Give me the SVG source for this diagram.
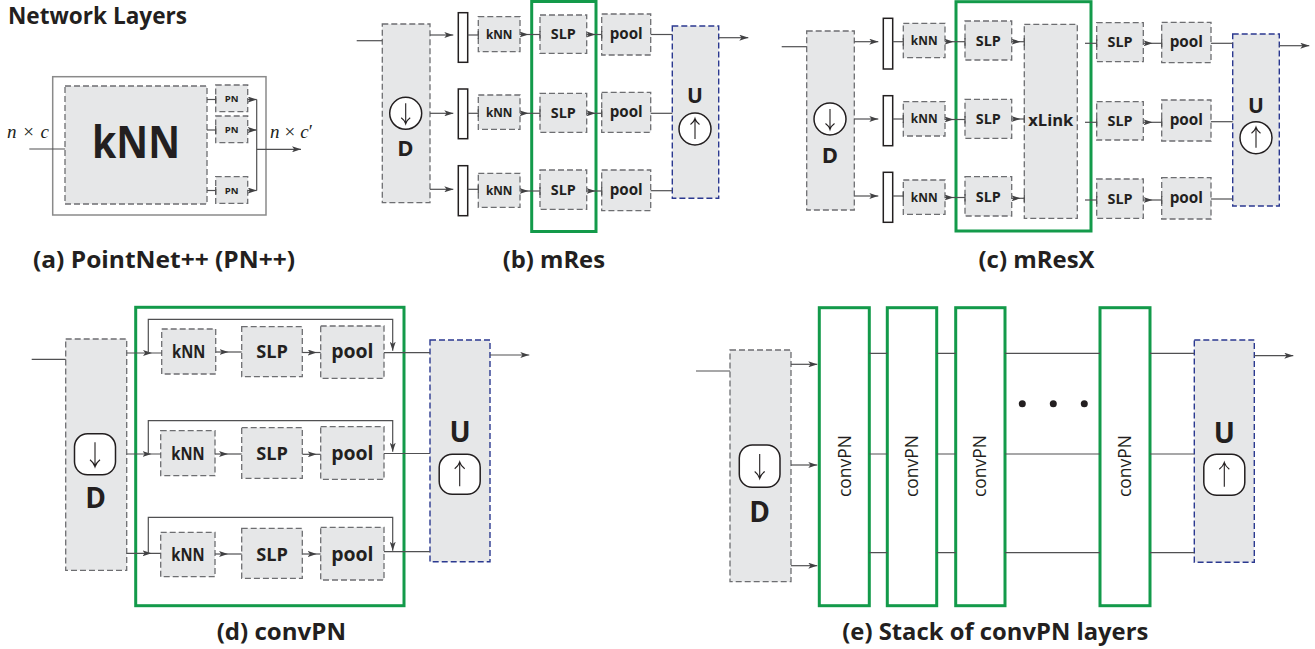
<svg xmlns="http://www.w3.org/2000/svg" xmlns:xlink="http://www.w3.org/1999/xlink" width="1315" height="649" viewBox="0 0 1315 649">
<style>
.bg{fill:#ffffff}
.gbox{fill:#e6e7e8;stroke:#6d6e71;stroke-width:1.3;stroke-dasharray:6 3}
.ubox{fill:#e6e7e8;stroke:#2b3990;stroke-width:1.4;stroke-dasharray:6 3}
.grn{fill:none;stroke:#139a4a;stroke-width:3}
.grnw{fill:#ffffff;stroke:#139a4a;stroke-width:3}
.bar{fill:#ffffff;stroke:#231f20;stroke-width:1.5}
.outer{fill:#ffffff;stroke:#8a8a8a;stroke-width:1.5}
.sym{fill:#ffffff;stroke:#231f20;stroke-width:1.5}
.arr{fill:none;stroke:#231f20;stroke-width:1.1}
.ln{fill:none;stroke:#505052;stroke-width:1.2}
.t{font-family:"Open Sans","Noto Sans","DejaVu Sans",sans-serif;font-weight:700;fill:#231f20;text-anchor:middle}
.cap{font-family:"Open Sans","Noto Sans","DejaVu Sans",sans-serif;font-weight:700;fill:#231f20;font-size:24px}
.cv{font-family:"Open Sans","Noto Sans","DejaVu Sans",sans-serif;font-weight:400;fill:#231f20;font-size:17.5px;text-anchor:middle}
.m{font-family:"Liberation Serif","DejaVu Serif",serif;fill:#231f20;font-size:19px}
</style>
<defs>
<marker id="ah" viewBox="0 0 9 6" refX="9" refY="3" markerWidth="9" markerHeight="6" markerUnits="userSpaceOnUse" orient="auto"><path d="M0,0 L9,3 L0,6 L2.2,3 Z" fill="#404042"/></marker>
<marker id="tick" viewBox="-1 -4 2 8" refX="0" refY="0" markerWidth="2" markerHeight="8" markerUnits="userSpaceOnUse" orient="auto"><path d="M0,-4 V4" stroke="#505052" stroke-width="1.2"/></marker>
<path id="darr" d="M0,-10 V10 M-4.5,4.5 Q-1,7 0,10.5 Q1,7 4.5,4.5"/>
<path id="uarr" d="M0,10 V-10 M-4.5,-4.5 Q-1,-7 0,-10.5 Q1,-7 4.5,-4.5"/>
<path id="darrL" d="M0,-12 V12 M-5,5.5 Q-1.2,8.5 0,12.5 Q1.2,8.5 5,5.5"/>
<path id="uarrL" d="M0,12 V-12 M-5,-5.5 Q-1.2,-8.5 0,-12.5 Q1.2,-8.5 5,-5.5"/>
</defs>
<rect class="bg" x="0" y="0" width="1315" height="649"/>

<text class="cap" x="8" y="24" font-size="21.5" textLength="179" lengthAdjust="spacingAndGlyphs">Network Layers</text>

<!-- ===== (a) ===== -->
<g id="a-outer"><rect class="outer" x="52.7" y="76.7" width="213.3" height="138.3"/></g>
<g id="a-knn"><rect class="gbox" x="65" y="86" width="142" height="118"/>
<text class="t" x="136" y="158.3" font-size="44" textLength="88" lengthAdjust="spacingAndGlyphs">kNN</text></g>
<g id="a-pn1"><rect class="gbox" x="215.7" y="85" width="32" height="26.7"/><text class="t" x="231.7" y="102" font-size="9.5">PN</text></g>
<g id="a-pn2"><rect class="gbox" x="215.7" y="116" width="32" height="26.7"/><text class="t" x="231.7" y="133" font-size="9.5">PN</text></g>
<g id="a-pn3"><rect class="gbox" x="215.7" y="176.7" width="32" height="26.7"/><text class="t" x="231.7" y="193.5" font-size="9.5">PN</text></g>
<text class="m" x="7" y="138" textLength="42" lengthAdjust="spacing"><tspan font-style="italic">n</tspan> × <tspan font-style="italic">c</tspan></text>
<text class="m" x="270" y="138" textLength="43" lengthAdjust="spacing"><tspan font-style="italic">n</tspan> × <tspan font-style="italic">c</tspan>′</text>

<!-- ===== (b) ===== -->
<g id="b-D"><rect class="gbox" x="382.3" y="24" width="47.7" height="178.7"/>
<circle class="sym" cx="405.7" cy="113.3" r="16"/><use xlink:href="#darr" href="#darr" class="arr" x="405.7" y="113.3"/>
<text class="t" x="405.5" y="156" font-size="22">D</text></g>
<g id="b-bar1"><rect class="bar" x="458.3" y="12.7" width="9.4" height="49.6"/></g>
<g id="b-bar2"><rect class="bar" x="458.3" y="89" width="9.4" height="49.7"/></g>
<g id="b-bar3"><rect class="bar" x="458.3" y="165.7" width="9.4" height="50"/></g>
<g id="b-knn1"><rect class="gbox" x="478.3" y="16.7" width="41.7" height="35"/><text class="t" x="499.2" y="38.8" font-size="13" textLength="26.5" lengthAdjust="spacingAndGlyphs">kNN</text></g>
<g id="b-knn2"><rect class="gbox" x="478.3" y="95" width="41.7" height="34.3"/><text class="t" x="499.2" y="116.8" font-size="13" textLength="26.5" lengthAdjust="spacingAndGlyphs">kNN</text></g>
<g id="b-knn3"><rect class="gbox" x="478.3" y="173.3" width="41.7" height="34"/><text class="t" x="499.2" y="195" font-size="13" textLength="26.5" lengthAdjust="spacingAndGlyphs">kNN</text></g>
<g id="b-green"><rect class="grn" x="531.7" y="1.5" width="64.3" height="230"/></g>
<g id="b-slp1"><rect class="gbox" x="540" y="15" width="46.7" height="38.3"/><text class="t" x="563.3" y="39.2" font-size="15" textLength="25" lengthAdjust="spacingAndGlyphs">SLP</text></g>
<g id="b-slp2"><rect class="gbox" x="540" y="93.3" width="46.7" height="39"/><text class="t" x="563.3" y="118" font-size="15" textLength="25" lengthAdjust="spacingAndGlyphs">SLP</text></g>
<g id="b-slp3"><rect class="gbox" x="540" y="170" width="46.7" height="39.3"/><text class="t" x="563.3" y="195" font-size="15" textLength="25" lengthAdjust="spacingAndGlyphs">SLP</text></g>
<g id="b-pool1"><rect class="gbox" x="601.7" y="14" width="49" height="41"/><text class="t" x="626.2" y="38.8" font-size="15.5" textLength="33" lengthAdjust="spacingAndGlyphs">pool</text></g>
<g id="b-pool2"><rect class="gbox" x="601.7" y="92.3" width="49" height="40"/><text class="t" x="626.2" y="117" font-size="15.5" textLength="33" lengthAdjust="spacingAndGlyphs">pool</text></g>
<g id="b-pool3"><rect class="gbox" x="601.7" y="170" width="49" height="40.7"/><text class="t" x="626.2" y="195" font-size="15.5" textLength="33" lengthAdjust="spacingAndGlyphs">pool</text></g>
<g id="b-U"><rect class="ubox" x="672.3" y="26" width="46.4" height="172.3"/>
<text class="t" x="695" y="103.3" font-size="21">U</text>
<circle class="sym" cx="695" cy="129" r="16"/><use xlink:href="#uarr" href="#uarr" class="arr" x="695" y="129"/></g>

<!-- ===== (c) ===== -->
<g id="c-D"><rect class="gbox" x="806.7" y="31" width="47.6" height="179"/>
<circle class="sym" cx="830" cy="119" r="16"/><use xlink:href="#darr" href="#darr" class="arr" x="830" y="119"/>
<text class="t" x="830" y="163" font-size="22">D</text></g>
<g id="c-bar1"><rect class="bar" x="883.3" y="18.3" width="9.4" height="50.7"/></g>
<g id="c-bar2"><rect class="bar" x="883.3" y="95.7" width="9.4" height="50"/></g>
<g id="c-bar3"><rect class="bar" x="883.3" y="172.3" width="9.4" height="50"/></g>
<g id="c-knn1"><rect class="gbox" x="903.3" y="23.3" width="41.7" height="34.4"/><text class="t" x="924.2" y="45" font-size="13" textLength="26.7" lengthAdjust="spacingAndGlyphs">kNN</text></g>
<g id="c-knn2"><rect class="gbox" x="903.3" y="101.7" width="41.7" height="34.3"/><text class="t" x="924.2" y="123.3" font-size="13" textLength="26.7" lengthAdjust="spacingAndGlyphs">kNN</text></g>
<g id="c-knn3"><rect class="gbox" x="903.3" y="180" width="41.7" height="34.3"/><text class="t" x="924.2" y="201.7" font-size="13" textLength="26.7" lengthAdjust="spacingAndGlyphs">kNN</text></g>
<g id="c-green"><rect class="grn" x="956" y="1.7" width="135" height="229.3"/></g>
<g id="c-slp1"><rect class="gbox" x="965" y="21" width="46.7" height="39"/><text class="t" x="988.3" y="45.5" font-size="15" textLength="25" lengthAdjust="spacingAndGlyphs">SLP</text></g>
<g id="c-slp2"><rect class="gbox" x="965" y="99.3" width="46.7" height="39"/><text class="t" x="988.3" y="124" font-size="15" textLength="25" lengthAdjust="spacingAndGlyphs">SLP</text></g>
<g id="c-slp3"><rect class="gbox" x="965" y="176.7" width="46.7" height="39.3"/><text class="t" x="988.3" y="201.5" font-size="15" textLength="25" lengthAdjust="spacingAndGlyphs">SLP</text></g>
<g id="c-xlink"><rect class="gbox" x="1024.3" y="24.3" width="53" height="194"/><text class="t" x="1050.8" y="126" font-size="16" textLength="45" lengthAdjust="spacingAndGlyphs">xLink</text></g>
<g id="c-slp4"><rect class="gbox" x="1096.7" y="22.7" width="46.6" height="39"/><text class="t" x="1120" y="47" font-size="15" textLength="25" lengthAdjust="spacingAndGlyphs">SLP</text></g>
<g id="c-slp5"><rect class="gbox" x="1096.7" y="101.7" width="46.6" height="38.3"/><text class="t" x="1120" y="125.8" font-size="15" textLength="25" lengthAdjust="spacingAndGlyphs">SLP</text></g>
<g id="c-slp6"><rect class="gbox" x="1096.7" y="179" width="46.6" height="39.3"/><text class="t" x="1120" y="203.5" font-size="15" textLength="25" lengthAdjust="spacingAndGlyphs">SLP</text></g>
<g id="c-pool1"><rect class="gbox" x="1161.7" y="22.3" width="49.3" height="40.4"/><text class="t" x="1186.3" y="47" font-size="15.5" textLength="33.3" lengthAdjust="spacingAndGlyphs">pool</text></g>
<g id="c-pool2"><rect class="gbox" x="1161.7" y="100" width="49.3" height="41"/><text class="t" x="1186.3" y="125.3" font-size="15.5" textLength="33.3" lengthAdjust="spacingAndGlyphs">pool</text></g>
<g id="c-pool3"><rect class="gbox" x="1161.7" y="177.7" width="49.3" height="41.3"/><text class="t" x="1186.3" y="203" font-size="15.5" textLength="33.3" lengthAdjust="spacingAndGlyphs">pool</text></g>
<g id="c-U"><rect class="ubox" x="1232.7" y="34" width="46.6" height="172"/>
<text class="t" x="1256" y="113" font-size="21">U</text>
<circle class="sym" cx="1256" cy="137.7" r="16"/><use xlink:href="#uarr" href="#uarr" class="arr" x="1256" y="137.7"/></g>

<!-- ===== (d) ===== -->
<g id="d-D"><rect class="gbox" x="65.7" y="339" width="61" height="231.3"/>
<rect class="sym" x="74.5" y="433.8" width="41" height="41" rx="13"/><use xlink:href="#darrL" href="#darrL" class="arr" x="95" y="454.3"/>
<text class="t" x="95.5" y="508.3" font-size="28">D</text></g>
<g id="d-green"><rect class="grn" x="135.7" y="307.3" width="268.3" height="298.4"/></g>
<g id="d-knn1"><rect class="gbox" x="161.7" y="329" width="54" height="45"/><text class="t" x="188.7" y="358.3" font-size="17" textLength="33.3" lengthAdjust="spacingAndGlyphs">kNN</text></g>
<g id="d-slp1"><rect class="gbox" x="241.7" y="326.7" width="60.6" height="50"/><text class="t" x="272" y="358.3" font-size="18.5" textLength="31.7" lengthAdjust="spacingAndGlyphs">SLP</text></g>
<g id="d-pool1"><rect class="gbox" x="320.7" y="326" width="63.3" height="52.3"/><text class="t" x="352.3" y="358.3" font-size="19.5" textLength="42.3" lengthAdjust="spacingAndGlyphs">pool</text></g>
<g id="d-knn2"><rect class="gbox" x="160.7" y="430.7" width="54.3" height="45"/><text class="t" x="188" y="459.5" font-size="17" textLength="33.3" lengthAdjust="spacingAndGlyphs">kNN</text></g>
<g id="d-slp2"><rect class="gbox" x="241.7" y="427.7" width="60.6" height="50.6"/><text class="t" x="272" y="459.5" font-size="18.5" textLength="31.7" lengthAdjust="spacingAndGlyphs">SLP</text></g>
<g id="d-pool2"><rect class="gbox" x="320.7" y="426.7" width="63.3" height="52.6"/><text class="t" x="352.3" y="459.5" font-size="19.5" textLength="42.3" lengthAdjust="spacingAndGlyphs">pool</text></g>
<g id="d-knn3"><rect class="gbox" x="160.7" y="532.3" width="54.3" height="44.4"/><text class="t" x="188" y="560.5" font-size="17" textLength="33.3" lengthAdjust="spacingAndGlyphs">kNN</text></g>
<g id="d-slp3"><rect class="gbox" x="241.7" y="528.3" width="60.6" height="50"/><text class="t" x="272" y="560.5" font-size="18.5" textLength="31.7" lengthAdjust="spacingAndGlyphs">SLP</text></g>
<g id="d-pool3"><rect class="gbox" x="320.7" y="527.3" width="63.3" height="52.7"/><text class="t" x="352.3" y="560.5" font-size="19.5" textLength="42.3" lengthAdjust="spacingAndGlyphs">pool</text></g>
<g id="d-U"><rect class="ubox" x="430" y="340" width="60" height="221.7"/>
<text class="t" x="460" y="441.7" font-size="28">U</text>
<rect class="sym" x="439.2" y="454.3" width="41" height="40" rx="13"/><use xlink:href="#uarrL" href="#uarrL" class="arr" x="459.7" y="474.3"/></g>

<!-- ===== (e) ===== -->
<g id="e-D"><rect class="gbox" x="730" y="350" width="61" height="231.7"/>
<rect class="sym" x="739.3" y="445" width="40.7" height="42.3" rx="13"/><use xlink:href="#darrL" href="#darrL" class="arr" x="759.7" y="466"/>
<text class="t" x="759.5" y="521.7" font-size="28">D</text></g>
<g id="e-conv1"><rect class="grnw" x="819.3" y="307.7" width="50" height="298"/><text class="cv" transform="translate(850.5,466) rotate(-90)">convPN</text></g>
<g id="e-conv2"><rect class="grnw" x="887.3" y="307.7" width="49.4" height="298"/><text class="cv" transform="translate(918,466) rotate(-90)">convPN</text></g>
<g id="e-conv3"><rect class="grnw" x="955.7" y="307.7" width="49.3" height="298"/><text class="cv" transform="translate(986.3,466) rotate(-90)">convPN</text></g>
<g id="e-conv4"><rect class="grnw" x="1100" y="307.7" width="50" height="298"/><text class="cv" transform="translate(1131,466) rotate(-90)">convPN</text></g>
<g id="e-dots" fill="#231f20"><circle cx="1022.3" cy="403.7" r="3.5"/><circle cx="1053.3" cy="403.7" r="3.5"/><circle cx="1084.3" cy="403.7" r="3.5"/></g>
<g id="e-U"><rect class="ubox" x="1194.3" y="340" width="60" height="222.3"/>
<text class="t" x="1224.3" y="442.7" font-size="28">U</text>
<rect class="sym" x="1203.8" y="454.3" width="41" height="41" rx="13"/><use xlink:href="#uarrL" href="#uarrL" class="arr" x="1224.3" y="474.8"/></g>

<!-- ===== connectors ===== -->
<g id="connectors" class="ln">
<!-- (a) -->
<path d="M29.3,149 H65"/>
<path d="M207,99.5 H215.7" marker-end="url(#tick)"/>
<path d="M207,130 H215.7" marker-end="url(#tick)"/>
<path d="M207,190.5 H215.7" marker-end="url(#tick)"/>
<path d="M247.7,99.5 H256.7" marker-end="url(#ah)"/>
<path d="M247.7,130 H256.7" marker-end="url(#ah)"/>
<path d="M247.7,190.5 H256.7" marker-end="url(#ah)"/>
<path d="M256.7,99.5 V190.5"/>
<path d="M256.7,149.3 H301" marker-end="url(#ah)"/>
<!-- (b) -->
<path d="M356.7,40.7 H382.3"/>
<path d="M430,35 H453.3" marker-end="url(#ah)"/>
<path d="M430,113.3 H453.3" marker-end="url(#ah)"/>
<path d="M430,189.3 H453.3" marker-end="url(#ah)"/>
<path d="M467.7,35 H478.3" marker-end="url(#tick)"/>
<path d="M467.7,113.3 H478.3" marker-end="url(#tick)"/>
<path d="M467.7,189.3 H478.3" marker-end="url(#tick)"/>
<polyline points="520,34.5 528.5,34.5 540,34.5" marker-mid="url(#ah)" marker-end="url(#tick)"/>
<polyline points="520,113.3 528.5,113.3 540,113.3" marker-mid="url(#ah)" marker-end="url(#tick)"/>
<polyline points="520,191 528.5,191 540,191" marker-mid="url(#ah)" marker-end="url(#tick)"/>
<polyline points="586.7,34.5 595.5,34.5 601.7,34.5" marker-mid="url(#ah)" marker-end="url(#tick)"/>
<polyline points="586.7,113.3 595.5,113.3 601.7,113.3" marker-mid="url(#ah)" marker-end="url(#tick)"/>
<polyline points="586.7,191 595.5,191 601.7,191" marker-mid="url(#ah)" marker-end="url(#tick)"/>
<path d="M650.7,34.5 H672.3"/>
<path d="M650.7,113.3 H672.3"/>
<path d="M650.7,190.7 H672.3"/>
<path d="M718.7,37.7 H748.3" marker-end="url(#ah)"/>
<!-- (c) -->
<path d="M781.7,46.7 H806.7"/>
<path d="M854.3,41.7 H878.3" marker-end="url(#ah)"/>
<path d="M854.3,119 H878.3" marker-end="url(#ah)"/>
<path d="M854.3,196 H878.3" marker-end="url(#ah)"/>
<path d="M892.7,41.7 H903.3" marker-end="url(#tick)"/>
<path d="M892.7,119 H903.3" marker-end="url(#tick)"/>
<path d="M892.7,196 H903.3" marker-end="url(#tick)"/>
<polyline points="945,41.7 953.5,41.7 965,41.7" marker-mid="url(#ah)" marker-end="url(#tick)"/>
<polyline points="945,119.5 953.5,119.5 965,119.5" marker-mid="url(#ah)" marker-end="url(#tick)"/>
<polyline points="945,197.5 953.5,197.5 965,197.5" marker-mid="url(#ah)" marker-end="url(#tick)"/>
<polyline points="1011.7,41.7 1020.5,41.7 1024.3,41.7" marker-mid="url(#ah)" marker-end="url(#tick)"/>
<polyline points="1011.7,119 1020.5,119 1024.3,119" marker-mid="url(#ah)" marker-end="url(#tick)"/>
<polyline points="1011.7,198.3 1020.5,198.3 1024.3,198.3" marker-mid="url(#ah)" marker-end="url(#tick)"/>
<path d="M1085,43.3 H1096.7" marker-end="url(#tick)"/>
<path d="M1085,122.3 H1096.7" marker-end="url(#tick)"/>
<path d="M1085,200 H1096.7" marker-end="url(#tick)"/>
<polyline points="1143.3,43.3 1152.5,43.3 1161.7,43.3" marker-mid="url(#ah)" marker-end="url(#tick)"/>
<polyline points="1143.3,122.3 1152.5,122.3 1161.7,122.3" marker-mid="url(#ah)" marker-end="url(#tick)"/>
<polyline points="1143.3,200 1152.5,200 1161.7,200" marker-mid="url(#ah)" marker-end="url(#tick)"/>
<path d="M1211,43.3 H1232.7"/>
<path d="M1211,121.7 H1232.7"/>
<path d="M1211,199 H1232.7"/>
<path d="M1279.3,45.7 H1309.3" marker-end="url(#ah)"/>
<!-- (d) -->
<path d="M31.7,359.3 H65.7"/>
<polyline points="126.7,353 152,353 161.7,353" marker-mid="url(#ah)"/>
<polyline points="126.7,454 151.5,454 160.7,454" marker-mid="url(#ah)"/>
<polyline points="126.7,553.3 151.5,553.3 160.7,553.3" marker-mid="url(#ah)"/>
<path d="M148.3,353 V319.3 H392.7 V350.7" marker-end="url(#ah)"/>
<path d="M148.3,454 V420.7 H392.7 V451.7" marker-end="url(#ah)"/>
<path d="M148.3,553.3 V517.3 H392.7 V550.7" marker-end="url(#ah)"/>
<polyline points="215.7,352 228.5,352 241.7,352" marker-mid="url(#ah)"/>
<polyline points="215,454 228,454 241.7,454" marker-mid="url(#ah)"/>
<polyline points="215,554 228,554 241.7,554" marker-mid="url(#ah)"/>
<polyline points="302.3,352.5 316.7,352.5 320.7,352.5" marker-mid="url(#ah)"/>
<polyline points="302.3,454.3 316.7,454.3 320.7,454.3" marker-mid="url(#ah)"/>
<polyline points="302.3,554 316.7,554 320.7,554" marker-mid="url(#ah)"/>
<path d="M384,352.7 H430"/>
<path d="M384,453.5 H430"/>
<path d="M384,551.7 H430"/>
<path d="M490,355 H529.3" marker-end="url(#ah)"/>
<!-- (e) -->
<path d="M696,371 H730"/>
<path d="M791,364.3 H817.3" marker-end="url(#ah)"/>
<path d="M791,465 H817.3" marker-end="url(#ah)"/>
<path d="M791,565.7 H817.3" marker-end="url(#ah)"/>
<path d="M869.3,353.3 H887.3 M936.7,353.3 H955.7 M1005,353.3 H1100 M1150,353.3 H1194.3"/>
<path d="M869.3,454 H887.3 M936.7,454 H955.7 M1005,454 H1100 M1150,454 H1194.3"/>
<path d="M869.3,552.7 H887.3 M936.7,552.7 H955.7 M1005,552.7 H1100 M1150,552.7 H1194.3"/>
<path d="M1254.3,355.7 H1293.3" marker-end="url(#ah)"/>
</g>

<!-- captions -->
<text class="cap" x="33" y="267.5" textLength="262" lengthAdjust="spacingAndGlyphs">(a) PointNet++ (PN++)</text>
<text class="cap" x="502.7" y="268" textLength="102.3" lengthAdjust="spacingAndGlyphs">(b) mRes</text>
<text class="cap" x="978.5" y="268" textLength="116" lengthAdjust="spacingAndGlyphs">(c) mResX</text>
<text class="cap" x="216.7" y="640" textLength="129.3" lengthAdjust="spacingAndGlyphs">(d) convPN</text>
<text class="cap" x="842.3" y="640" textLength="306" lengthAdjust="spacingAndGlyphs">(e) Stack of convPN layers</text>
</svg>
